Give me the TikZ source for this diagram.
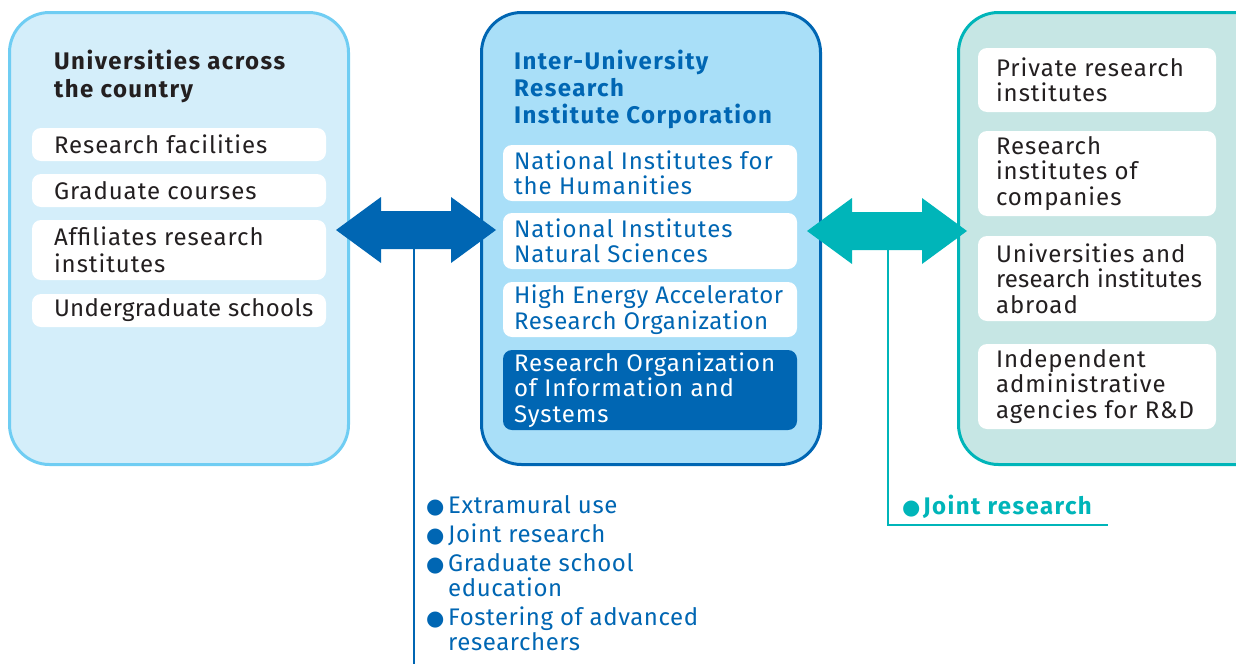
\documentclass[tikz,border=0pt]{standalone}
\usepackage{fontspec}
\setmainfont[LetterSpace = 4, BoldFeatures = {LetterSpace = 6}]{Fira Sans}
\newfontfamily\listfont[LetterSpace = 2.5]{Fira Sans}
\newfontfamily\dotfont{DejaVu Sans}
\usetikzlibrary{positioning}

\definecolor{uniLine}{HTML}{6FCDF3}
\definecolor{uniFill}{HTML}{D4EEFA}
\definecolor{iurBlue}{HTML}{0066B3}
\definecolor{iurFill}{HTML}{A9DFF8}
\definecolor{extTeal}{HTML}{00B5B9}
\definecolor{extFill}{HTML}{C6E6E4}
\definecolor{inkDark}{HTML}{231F20}

\newcommand{\blob}{\makebox[22pt][l]{{\dotfont\fontsize{21}{21}\selectfont ●}}}

\begin{document}
\begin{tikzpicture}[x = 1pt, y = -1pt, font = \fontsize{24}{25.5}\selectfont]
	\useasboundingbox (0,0) rectangle (1236,664);
	\tikzstyle{outerStyle} = [shape = rectangle, rounded corners = 40pt, line width = 3pt, minimum width = 339pt, minimum height = 452pt, inner sep = 0pt]
	\tikzstyle{itemStyle} = [shape = rectangle, rounded corners = 9pt, fill = white, inner sep = 0pt]
	\tikzstyle{textStyle} = [align = left, inner sep = 0pt, text = inkDark]
	\tikzstyle{titleStyle} = [align = left, inner sep = 0pt, anchor = north west, font = \fontsize{24}{27}\selectfont\bfseries]
	% the three groups
	\node[outerStyle, draw = uniLine, fill = uniFill] (uniBox) at (179, 238.5) {};
	\node[outerStyle, draw = iurBlue, fill = iurFill] (iurBox) at (651, 238.5) {};
	\node[outerStyle, draw = extTeal, fill = extFill] (extBox) at (1128, 238.5) {};
	\node[titleStyle, text = inkDark] (uniTitle) at (54, 50) {Universities across\\[1pt]the country};
	\node[titleStyle, text = iurBlue] (iurTitle) at (514, 50) {Inter-University\\Research\\Institute Corporation};
	% universities
	\node[itemStyle, minimum width = 294pt, minimum height = 33pt] (resFac) at (179, 144.5) {};
	\node[itemStyle, minimum width = 294pt, minimum height = 33pt] (gradCrs) at (179, 190.5) {};
	\node[itemStyle, minimum width = 294pt, minimum height = 60pt] (affInst) at (179, 250) {};
	\node[itemStyle, minimum width = 294pt, minimum height = 33pt] (ugSch) at (179, 310.5) {};
	\node[textStyle, right = 22pt of resFac.west] {Research facilities};
	\node[textStyle, right = 22pt of gradCrs.west] {Graduate courses};
	\node[textStyle, right = 22pt of affInst.west] {Affiliates research\\[2pt]institutes};
	\node[textStyle, right = 22pt of ugSch.west] {\addfontfeatures{LetterSpace = 1.5}Undergraduate schools};
	% inter-university corporation
	\node[itemStyle, minimum width = 294pt, minimum height = 56pt] (nihu) at (650, 173) {};
	\node[itemStyle, minimum width = 294pt, minimum height = 56pt] (nins) at (650, 241) {};
	\node[itemStyle, minimum width = 294pt, minimum height = 55pt] (kek) at (650, 309.5) {};
	\node[itemStyle, minimum width = 294pt, minimum height = 80pt, fill = iurBlue] (rois) at (650, 390) {};
	\node[textStyle, text = iurBlue, right = 11pt of nihu.west] {National Institutes for\\the Humanities};
	\node[textStyle, text = iurBlue, right = 11pt of nins.west] {National Institutes\\Natural Sciences};
	\node[textStyle, text = iurBlue, right = 11pt of kek.west] {\addfontfeatures{LetterSpace = 2.5}High Energy Accelerator\\\addfontfeatures{LetterSpace = 2.5}Research Organization};
	\node[textStyle, text = white, right = 11pt of rois.west] {Research Organization\\of Information and\\Systems};
	% outside partners
	\node[itemStyle, minimum width = 238pt, minimum height = 64pt] (privInst) at (1097, 80) {};
	\node[itemStyle, minimum width = 238pt, minimum height = 85pt] (compInst) at (1097, 173.5) {};
	\node[itemStyle, minimum width = 238pt, minimum height = 85pt] (abroad) at (1097, 278.5) {};
	\node[itemStyle, minimum width = 238pt, minimum height = 85pt] (agency) at (1097, 386.5) {};
	\node[textStyle, right = 18pt of privInst.west] {Private research\\institutes};
	\node[textStyle, right = 18pt of compInst.west] {Research\\institutes of\\companies};
	\node[textStyle, right = 18pt of abroad.west] {Universities and\\\addfontfeatures{LetterSpace = 1}research institutes\\abroad};
	\node[textStyle, right = 18pt of agency.west] {Independent\\administrative\\agencies for R\&D};
	% arrows
	\coordinate (blueTipL) at (336, 230);
	\coordinate (blueTipR) at (496, 230);
	\coordinate (tealTipL) at (807, 231);
	\coordinate (tealTipR) at (967, 231);
	\fill[iurBlue] (blueTipL) -- ++(45,-33) -- ++(0,14) -- ++(70,0) -- ++(0,-14) -- (blueTipR)
		-- ++(-45,33) -- ++(0,-14) -- ++(-70,0) -- ++(0,14) -- cycle;
	\fill[extTeal] (tealTipL) -- ++(45,-33) -- ++(0,14) -- ++(70,0) -- ++(0,-14) -- (tealTipR)
		-- ++(-45,33) -- ++(0,-14) -- ++(-70,0) -- ++(0,14) -- cycle;
	% what flows along them
	\coordinate (blueDrop) at (414, 249);
	\coordinate (blueFoot) at (414, 664);
	\coordinate (tealDrop) at (888, 250);
	\coordinate (tealKnee) at (888, 525);
	\coordinate (tealFoot) at (1108, 525);
	\draw[iurBlue, line width = 1.5pt] (blueDrop) -- (blueFoot);
	\draw[extTeal, line width = 1.5pt] (tealDrop) -- (tealKnee) -- (tealFoot);
	\node[textStyle, text = iurBlue, anchor = north west, font = \fontsize{24}{25.5}\selectfont\listfont] (useList) at (426, 495)
		{\blob Extramural use\\[3.5pt]\blob Joint research\\[3.5pt]\blob Graduate school\\\hspace*{22pt}education\\[3pt]\blob Fostering of advanced\\\hspace*{22pt}researchers};
	\node[textStyle, text = extTeal, anchor = north west, font = \fontsize{24}{25.5}\selectfont\bfseries] (jointList) at (902, 495)
		{\makebox[21pt][l]{{\dotfont\fontsize{21}{21}\selectfont ●}}Joint research};
\end{tikzpicture}
\end{document}
